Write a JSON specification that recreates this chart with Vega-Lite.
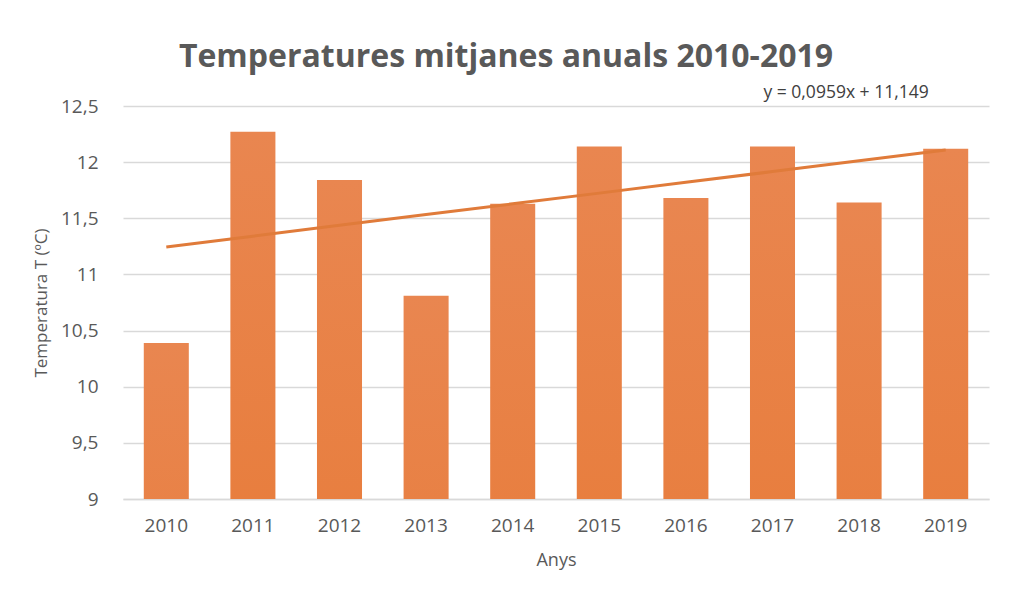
{
  "$schema": "https://vega.github.io/schema/vega-lite/v6.json",
  "autosize": "none",
  "width": 866,
  "height": 393,
  "padding": {"left": 123, "top": 106, "right": 35, "bottom": 114},
  "background": "white",
  "config": {"view": {"stroke": null}, "font": "Open Sans"},
  "title": {
    "text": "Temperatures mitjanes anuals 2010-2019",
    "font": "Open Sans",
    "fontSize": 32,
    "fontWeight": "bold",
    "color": "#595959",
    "anchor": "middle",
    "dx": -50,
    "offset": 10
  },
  "data": {
    "values": [
      {"year": "2010", "temp": 10.39, "trend": 11.245},
      {"year": "2011", "temp": 12.27, "trend": 11.341},
      {"year": "2012", "temp": 11.84, "trend": 11.437},
      {"year": "2013", "temp": 10.81, "trend": 11.533},
      {"year": "2014", "temp": 11.63, "trend": 11.629},
      {"year": "2015", "temp": 12.14, "trend": 11.724},
      {"year": "2016", "temp": 11.68, "trend": 11.820},
      {"year": "2017", "temp": 12.14, "trend": 11.916},
      {"year": "2018", "temp": 11.64, "trend": 12.012},
      {"year": "2019", "temp": 12.12, "trend": 12.108}
    ]
  },
  "encoding": {
    "x": {
      "field": "year",
      "type": "ordinal",
      "scale": {"paddingInner": 0.48, "paddingOuter": 0.24},
      "axis": {
        "title": "Anys",
        "labelAngle": 0,
        "labelFont": "Open Sans",
        "labelFontSize": 19,
        "labelColor": "#595959",
        "labelPadding": 17,
        "titleFont": "Open Sans",
        "titleFontSize": 18,
        "titleFontWeight": "normal",
        "titleColor": "#595959",
        "titlePadding": 16,
        "ticks": false,
        "domainColor": "#d9d9d9",
        "domainWidth": 1.5
      }
    }
  },
  "layer": [
    {
      "mark": {
        "type": "bar",
        "clip": true,
        "color": {
          "gradient": "linear",
          "x1": 0, "y1": 0, "x2": 0, "y2": 1,
          "stops": [
            {"offset": 0, "color": "#E98650"},
            {"offset": 0.5, "color": "#E7772F"},
            {"offset": 1, "color": "#DD631A"}
          ]
        }
      },
      "encoding": {
        "y": {
          "field": "temp",
          "type": "quantitative",
          "scale": {"domain": [9, 12.5], "zero": false, "nice": false},
          "axis": {
            "title": "Temperatura T (ºC)",
            "values": [9, 9.5, 10, 10.5, 11, 11.5, 12, 12.5],
            "format": ",.1~f",
            "labelExpr": "replace(datum.label, '.', ',')",
            "labelFont": "Open Sans",
            "labelFontSize": 19,
            "labelColor": "#595959",
            "labelPadding": 25,
            "titleFont": "Open Sans",
            "titleFontSize": 17,
            "titleFontWeight": "normal",
            "titleColor": "#595959",
            "titlePadding": 10,
            "ticks": false,
            "domain": false,
            "gridColor": "#d9d9d9",
            "gridWidth": 1.3
          }
        }
      }
    },
    {
      "mark": {"type": "line", "color": "#E07B3A", "strokeWidth": 3},
      "encoding": {
        "y": {"field": "trend", "type": "quantitative"}
      }
    },
    {
      "transform": [{"filter": "datum.year == '2018'"}],
      "mark": {"type": "text", "fontSize": 17.5, "color": "#404040", "font": "Open Sans", "dx": -13},
      "encoding": {
        "y": {"datum": 12.62},
        "text": {"value": "y = 0,0959x + 11,149"}
      }
    }
  ]
}
